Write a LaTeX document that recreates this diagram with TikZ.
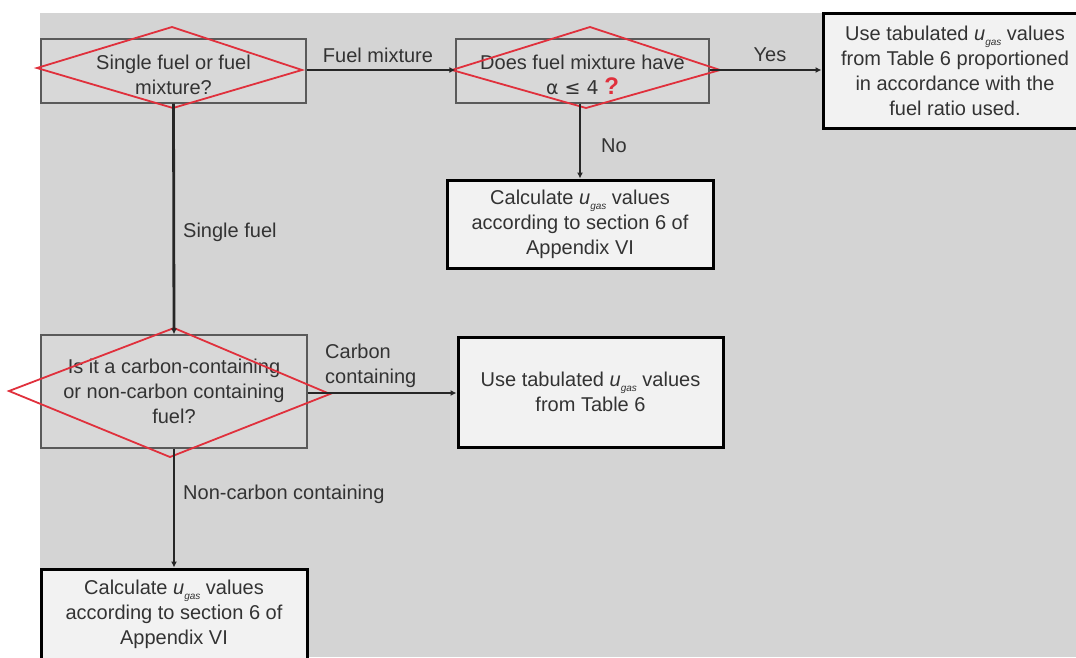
\documentclass[tikz,border=0pt]{standalone}
\usepackage{fontspec}
\setmainfont{Liberation Sans}
\newfontfamily\dejavu{DejaVu Sans}
\usetikzlibrary{arrows.meta}
\definecolor{bggray}{HTML}{D4D4D4}
\definecolor{decfill}{HTML}{D8D8D8}
\definecolor{boxedge}{HTML}{5A5A5A}
\definecolor{resfill}{HTML}{F2F2F2}
\definecolor{textgray}{HTML}{333333}
\definecolor{markred}{HTML}{E0303C}
\newcommand{\ugas}{\textit{u}\raisebox{-0.5ex}{\fontsize{10}{10}\selectfont\textit{gas}}}
\begin{document}
\begin{tikzpicture}[x=1pt,y=-1pt,
  txt/.style={font=\fontsize{20}{25}\selectfont, text=textgray, align=center, inner sep=0pt},
  decbox/.style={txt, draw=boxedge, line width=1.3pt, fill=decfill},
  resbox/.style={txt, draw=black, line width=3pt, fill=resfill},
  lbl/.style={font=\fontsize{20}{25}\selectfont, text=textgray, inner sep=0pt},
  conn/.style={draw=black!85, line width=2.8pt, -{Latex[length=6pt,width=6pt]}},
  reddia/.style={draw=markred, line width=1.8pt, line join=miter}
]
\useasboundingbox (0,0) rectangle (1076,657);
\fill[bggray] (40,13) rectangle (1076,657);

% decision boxes
\node[decbox, minimum width=265pt, minimum height=64pt] (A) at (173.5,71) {\rule{0pt}{22pt}Single fuel or fuel\\mixture?};
\node[decbox, minimum width=253pt, minimum height=64pt] (B) at (582.5,71) {\rule{0pt}{22pt}Does fuel mixture have\\{\dejavu\fontsize{19}{25}\selectfont α ≤ 4} {\color{markred}\bfseries\fontsize{24}{25}\selectfont ?}};
\node[decbox, minimum width=266pt, minimum height=113pt] (E) at (174,391.5) {Is it a carbon-containing\\or non-carbon containing\\fuel?};

% result boxes
\node[resbox, minimum width=264pt, minimum height=115pt] (C) at (955,70.5) {Use tabulated \ugas{} values\\from Table 6 proportioned\\in accordance with the\\fuel ratio used.};
\node[resbox, minimum width=266pt, minimum height=88pt] (D) at (580,224) {Calculate \ugas{} values\\according to section 6 of\\Appendix VI};
\node[resbox, minimum width=265pt, minimum height=110pt] (F) at (590.5,392) {Use tabulated \ugas{} values\\from Table 6};
\node[resbox, minimum width=266pt, minimum height=90pt] (G) at (174,614) {Calculate \ugas{} values\\according to section 6 of\\Appendix VI};

% red diamonds over decision boxes
\draw[reddia] (37,68) -- (172,27) -- (302,70) -- (173,108) -- cycle;
\draw[reddia] (452,70) -- (590,27) -- (720,70) -- (586,108) -- cycle;
\draw[reddia] (9,391) -- (174,328) -- (330,394) -- (170,457) -- cycle;

% connectors
\draw[conn] (A.east |- 0,70) -- (B.west |- 0,70);
\draw[conn] (B.east |- 0,70) -- (C.west |- 0,70);
\draw[conn] (D.north |- B.south) -- (D.north);
\draw[conn] (A.south) -- (E.north);
\draw[conn] (E.east |- 0,393) -- (F.west |- 0,393);
\draw[conn] (E.south) -- (G.north);

% connector labels
\node[lbl] (lfm) at (378,55) {Fuel mixture};
\node[lbl] (lyes) at (770,55) {Yes};
\node[lbl] (lno) at (614,146) {No};
\node[lbl, anchor=west] (lsf) at (183,232) {Single fuel};
\node[lbl, anchor=west, align=left] (lcc) at (325,366) {Carbon\\containing};
\node[lbl, anchor=west] (lnc) at (183,494) {Non-carbon containing};
\end{tikzpicture}
\end{document}
